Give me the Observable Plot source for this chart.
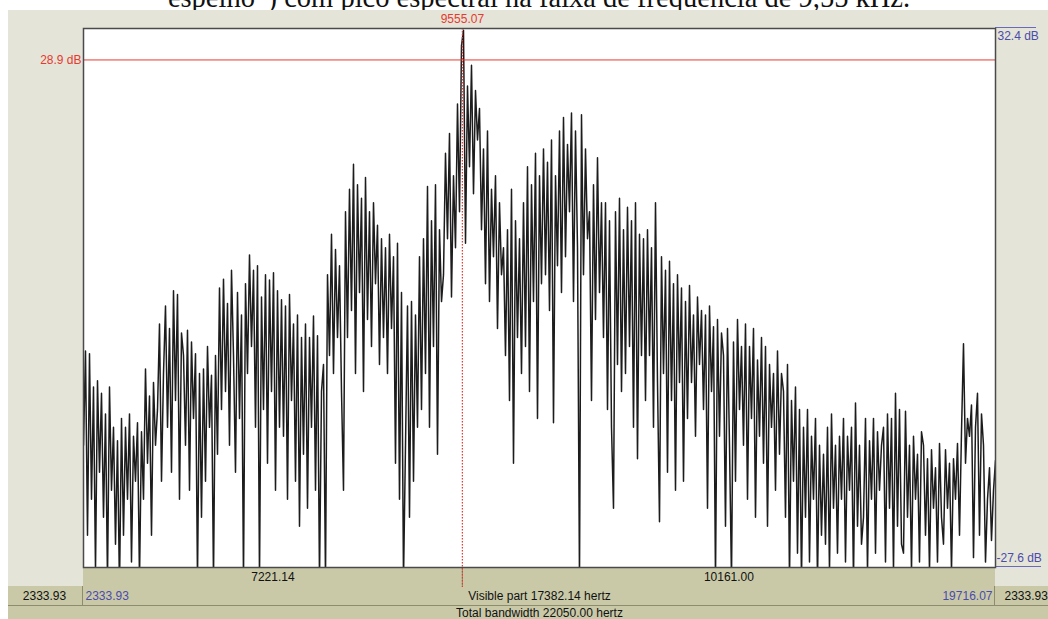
<!DOCTYPE html>
<html>
<head>
<meta charset="utf-8">
<script src="https://cdn.jsdelivr.net/npm/d3@7"></script>
<script src="https://cdn.jsdelivr.net/npm/@observablehq/plot@0.6"></script>
<style>
  html, body { margin: 0; padding: 0; background: #ffffff; }
  #page { position: relative; width: 1048px; height: 619px; overflow: hidden; background: #ffffff; }
  #title { position: absolute; left: 0; width: 1078px; top: -16px; text-align: center;
    font-family: "Liberation Serif", "DejaVu Serif", serif; font-size: 28.5px; line-height: 28.5px; color: #111; white-space: nowrap; }
  .blk { position: absolute; box-sizing: border-box; }
  #chart { position: absolute; left: 0; top: 0; }
</style>
</head>
<body>
<div id="page">
  <div id="title">espelho”) com pico espectral na faixa de frequência de 9,55 kHz.</div>
  <div class="blk" style="left:8px;top:10px;width:1040px;height:609px;background:#e4e4d8;"></div>
  <div class="blk" style="left:83px;top:566px;width:912px;height:21px;background:#c9c9a8;border-top:1px solid #6e6e5a;border-bottom:1px solid #8c8c6e;"></div>
  <div class="blk" style="left:8px;top:586px;width:1040px;height:20px;background:#c9c9a8;border-bottom:1px solid #8c8c6e;"></div>
  <div class="blk" style="left:82px;top:586px;width:1px;height:20px;background:#8c8c6e;"></div>
  <div class="blk" style="left:994px;top:586px;width:1px;height:20px;background:#8c8c6e;"></div>
  <div class="blk" style="left:8px;top:606px;width:1040px;height:13px;background:#c9c9a8;"></div>
  <div class="blk" style="left:995px;top:27px;width:41px;height:1px;background:#6a6ab8;"></div>
  <div class="blk" style="left:995px;top:566px;width:46px;height:1px;background:#6a6ab8;"></div>
  <div id="chart"></div>
</div>
<script>
// Spectrum slice (Praat-style): visible frequency range and dB range
const fMin = 2333.93;
const fMax = 19716.07;
const totalBandwidth = 22050.00;
const peakFreq = 9555.07;
const cursorDb = 28.9;
const dbMax = 32.4;
const dbMin = -27.6;

// Spectrum levels (dB), equally spaced bins from fMin to fMax
const dbValues = [
  -14, -3.5, -24, -3.8, -20, -7.5, -28, -6.8, -17, -8.2,
  -22, -10.5, -29, -7.5, -19, -12, -25, -13.5, -30, -11,
  -24, -12, -20, -10.5, -27, -13, -18, -11.5, -29, -12.5,
  -20, -5.5, -16, -8.5, -24, -7, -14, -10, -0.5, -18,
  -6, 1.5, -12, -1, -17, 3.2, -9, 2.8, -20, -1.5,
  -4, -14, -1.2, -19, -2.5, -11, -3.8, -29, -6, -22,
  -5.5, -18, -3, -12, -6.2, -29, -4, -15, 3.5, -10,
  4.5, -8, 1.8, -14, 5.5, -4, -17, 3, -11, 0.5,
  -29, 4, -6, 7.2, -3, 5.5, -12, 6, -29, 2.5,
  -10, 5, -16, 4.4, -8, 5.2, -19, 3.2, -12, 2.2,
  -13, 1.5, -20, 2.8, -9, -0.5, -18, 0.5, -23, -2,
  -15, -0.5, -21, -2, -12, 0.4, -19, -1.8, -29, -8,
  -5, -29, 5, -4, 9.5, -6, 7.8, -2, 6, -8,
  -19, 12, -2, 14.5, 1, 17.3, -6, 15, 3, 13.5,
  -8, 15.8, 0, 12, -3, 13, 4, 10.5, -5, 9,
  -2, 8, -6, 9.5, -1, 7, -16, 8.5, -20, 3,
  -29, -14, 1.5, -22, 2, -18, 0.5, -12, 7, -10,
  9, -6, 14.8, -12, 11, -3, 15, -15, 10, 2,
  5, 18.5, 9, 20.7, 2.5, 16, 8, 24, 12, 30.5,
  32.2, 8.5, 26, 17, 28.3, 14, 25.5, 20, 23.5, 10,
  19, 4, 21, 2, 14.5, 7, 16, -1, 13, 5,
  8, -4, 10, -9, 14.5, -16, 11, -2, 9, -6,
  13, -3, 17, -8, 15, 2, 18.5, -11, 16, 4,
  19, 5, 17.5, 1, 20, -11.5, 16, 6, 21, 3,
  22.5, 7, 19.5, 12, 23, 2, 21, 8, -29, 22.8,
  5, 19, 9, 12, -9, 15, 0, 18, 3, 13,
  -2, 13, -10, 11, -12, -21, 12, -5, 13.5, -8,
  10, -6, 12.5, -3, 11, -12, 13, -15.5, 9.5, -4,
  9, -9, 10, -4, 8, -12, 13, -7, -22.5, 7,
  -6, 5.5, -17, 6.5, -9, 4, -19, 5, -7, 3.5,
  -18, 2, -11, 3.8, -7, 0.5, -13, 2.5, -5, 1,
  -10, 0.5, -21, 1.5, -8, -0.8, -29, 0, -13, -1.5,
  -4, -23, -1, -14, -29, -2.5, -18, 0, -10, -3,
  -14, -0.5, -20, -3, -11, -1, -22, -4.5, -13, -2,
  -16, -3, -23, -5, -12, -6, -19, -3.5, -15, -6,
  -8, -22, -5, -29, -9, -18, -7.5, -26, -10, -29,
  -12, -22, -10, -27, -13, -20, -11, -29, -14, -24,
  -15, -25, -12, -28, -10.5, -21, -14, -26, -13, -20,
  -11, -27, -13, -19, -12, -29, -9.3, -23, -14, -25,
  -22, -11, -28, -13.5, -20, -11, -26, -12.5, -19, -14,
  -12, -27, -10.5, -21, -11, -28, -8.2, -23, -10, -25,
  -26, -10.2, -22, -14, -28, -13, -20, -15, -27, -12.5,
  -14, -24, -15.5, -28, -14.5, -21, -16.5, -27, -13.8, -22,
  -25, -14.5, -21, -16, -28, -15.5, -20, -13.8, -24, -12.5,
  -2.7, -16, -11, -13, -9.5, -26.5, -12, -8.2, -24, -10.5,
  -14, -27, -20, -16.5, -24.6, -19, -15.7
];

const spectrum = dbValues.map((db, i) => ({
  f: fMin + i * (fMax - fMin) / (dbValues.length - 1),
  db
}));

const red = "#e8392e";
const blue = "#4b4bab";
const ink = "#111";
const fmt2 = v => v.toFixed(2);
const T = { fontSize: 12, lineAnchor: "middle" };

const chart = Plot.plot({
  width: 1048,
  height: 619,
  marginLeft: 83,
  marginRight: 53,
  marginTop: 28,
  marginBottom: 52,
  x: { domain: [fMin, fMax], axis: null },
  y: { domain: [dbMin, dbMax], axis: null },
  style: { background: "transparent", fontFamily: "'Liberation Sans', Arial, sans-serif", fontSize: "12px", overflow: "visible" },
  marks: [
    Plot.frame({ fill: "white", stroke: null }),
    Plot.line(spectrum, { x: "f", y: "db", stroke: "#1c1c1c", strokeWidth: 1.5, clip: true }),
    Plot.ruleY([cursorDb], { stroke: red, strokeWidth: 1 }),
    Plot.ruleX([peakFreq], { stroke: "#8c8c6e", insetTop: 539, insetBottom: -20 }),
    Plot.ruleX([peakFreq], { stroke: red, strokeWidth: 1.2, strokeDasharray: "1.5,1.5", insetBottom: -20 }),
    Plot.frame({ stroke: "#4a4a4a", strokeWidth: 1.5 }),
    // cursor labels
    Plot.text([peakFreq], { ...T, x: d => d, frameAnchor: "top", dy: -9, text: d => fmt2(d), fill: red }),
    Plot.text([cursorDb], { ...T, y: d => d, frameAnchor: "left", textAnchor: "end", dx: -2, text: d => d.toFixed(1) + " dB", fill: red }),
    // vertical range labels
    Plot.text([dbMax], { ...T, y: d => d, frameAnchor: "right", textAnchor: "start", dx: 2, dy: 8, text: d => d.toFixed(1) + " dB", fill: blue }),
    Plot.text([dbMin], { ...T, y: d => d, frameAnchor: "right", textAnchor: "start", dx: 1, dy: -9, text: d => d.toFixed(1) + " dB", fill: blue }),
    // selection-part bar
    Plot.text([[fMin, peakFreq], [peakFreq, fMax]], { ...T, x: d => (d[0] + d[1]) / 2, frameAnchor: "bottom", dy: 10, text: d => fmt2(d[1] - d[0]), fill: ink }),
    // visible-part bar
    Plot.text([fMin], { ...T, x: d => d, frameAnchor: "bottom", textAnchor: "start", dx: 2, dy: 29, text: d => fmt2(d), fill: blue }),
    Plot.text([fMax], { ...T, x: d => d, frameAnchor: "bottom", textAnchor: "end", dx: -3, dy: 29, text: d => fmt2(d), fill: blue }),
    Plot.text([[fMin, fMax]], { ...T, x: d => (d[0] + d[1]) / 2, frameAnchor: "bottom", dy: 29, text: d => "Visible part " + fmt2(d[1] - d[0]) + " hertz", fill: ink }),
    Plot.text([fMin], { ...T, frameAnchor: "bottom-left", textAnchor: "middle", dx: -39, dy: 29, text: d => fmt2(d), fill: ink }),
    Plot.text([totalBandwidth - fMax], { ...T, frameAnchor: "bottom-right", textAnchor: "start", dx: 9, dy: 29, text: d => fmt2(d), fill: ink }),
    // total bar
    Plot.text([totalBandwidth], { ...T, x: (fMin + fMax) / 2, frameAnchor: "bottom", dy: 46, text: d => "Total bandwidth " + fmt2(d) + " hertz", fill: ink })
  ]
});
document.getElementById("chart").appendChild(chart);
</script>
</body>
</html>
